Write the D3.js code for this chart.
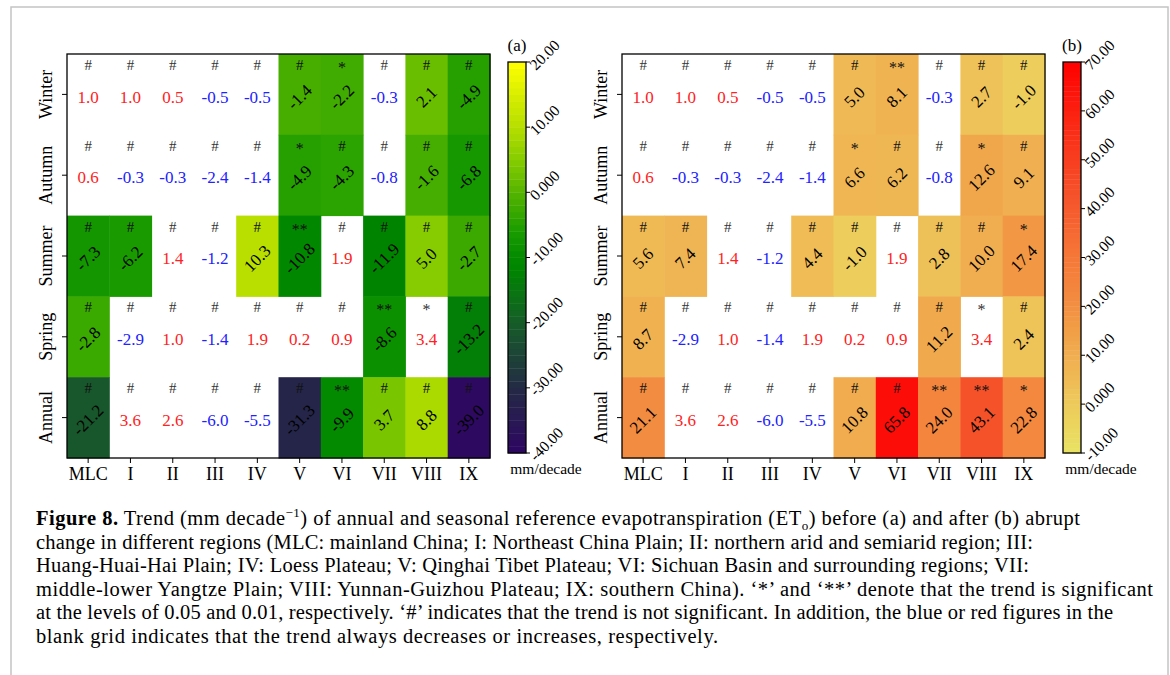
<!DOCTYPE html>
<html>
<head>
<meta charset="utf-8">
<script src="https://cdn.jsdelivr.net/npm/d3@7"></script>
<style>
  body { margin: 0; background: #fff; }
  svg { display: block; font-family: "Liberation Serif", "DejaVu Serif", serif; }
</style>
</head>
<body>
<div id="vis"></div>
<script>
const WIDTH = 1170;
const HEIGHT = 675;

const regions = ["MLC", "I", "II", "III", "IV", "V", "VI", "VII", "VIII", "IX"];
const seasons = ["Winter", "Autumn", "Summer", "Spring", "Annual"];

// trend before abrupt change (a)
const before = [
  [1.0, 1.0, 0.5, -0.5, -0.5, -1.4, -2.2, -0.3, 2.1, -4.9],
  [0.6, -0.3, -0.3, -2.4, -1.4, -4.9, -4.3, -0.8, -1.6, -6.8],
  [-7.3, -6.2, 1.4, -1.2, 10.3, -10.8, 1.9, -11.9, 5.0, -2.7],
  [-2.8, -2.9, 1.0, -1.4, 1.9, 0.2, 0.9, -8.6, 3.4, -13.2],
  [-21.2, 3.6, 2.6, -6.0, -5.5, -31.3, -9.9, 3.7, 8.8, -39.0]
];
const beforeSig = [
  ["#", "#", "#", "#", "#", "#", "*", "#", "#", "#"],
  ["#", "#", "#", "#", "#", "*", "#", "#", "#", "#"],
  ["#", "#", "#", "#", "#", "**", "#", "#", "#", "#"],
  ["#", "#", "#", "#", "#", "#", "#", "**", "*", "#"],
  ["#", "#", "#", "#", "#", "#", "**", "#", "#", "#"]
];

// trend after abrupt change (b)
const after = [
  [1.0, 1.0, 0.5, -0.5, -0.5, 5.0, 8.1, -0.3, 2.7, -1.0],
  [0.6, -0.3, -0.3, -2.4, -1.4, 6.6, 6.2, -0.8, 12.6, 9.1],
  [5.6, 7.4, 1.4, -1.2, 4.4, -1.0, 1.9, 2.8, 10.0, 17.4],
  [8.7, -2.9, 1.0, -1.4, 1.9, 0.2, 0.9, 11.2, 3.4, 2.4],
  [21.1, 3.6, 2.6, -6.0, -5.5, 10.8, 65.8, 24.0, 43.1, 22.8]
];
const afterSig = [
  ["#", "#", "#", "#", "#", "#", "**", "#", "#", "#"],
  ["#", "#", "#", "#", "#", "*", "#", "#", "*", "#"],
  ["#", "#", "#", "#", "#", "#", "#", "#", "#", "*"],
  ["#", "#", "#", "#", "#", "#", "#", "#", "*", "#"],
  ["#", "#", "#", "#", "#", "#", "#", "**", "**", "*"]
];

// 1 = coloured cell, 0 = blank grid (trend keeps its sign)
const shaded = [
  [0, 0, 0, 0, 0, 1, 1, 0, 1, 1],
  [0, 0, 0, 0, 0, 1, 1, 0, 1, 1],
  [1, 1, 0, 0, 1, 1, 0, 1, 1, 1],
  [1, 0, 0, 0, 0, 0, 0, 1, 0, 1],
  [1, 0, 0, 0, 0, 1, 1, 1, 1, 1]
];

const ticksA = [20, 10, 0, -10, -20, -30, -40];
const tickLabelsA = ["20.00", "10.00", "0.000", "-10.00", "-20.00", "-30.00", "-40.00"];
const ticksB = [70, 60, 50, 40, 30, 20, 10, 0, -10];
const tickLabelsB = ["70.00", "60.00", "50.00", "40.00", "30.00", "20.00", "10.00", "0.000", "-10.00"];

const colorA = d3.scaleLinear()
  .domain([-40, -30, -20, -12, -10, -6, -3, 0, 5, 10, 15, 20])
  .range(["#2e0662", "#232a44", "#165c28", "#008400", "#038a00", "#1a9c00", "#38a800",
          "#55b400", "#86cc00", "#b6de00", "#d8ee00", "#ffff00"])
  .clamp(true);

const colorB = d3.scaleLinear()
  .domain([-10, 0, 5, 10, 12.6, 17.4, 21, 30, 43, 50, 60, 70])
  .range(["#e8e262", "#edcb5b", "#efba55", "#f0ae50", "#f0a64a", "#f29844", "#f28c40",
          "#f57838", "#f5522a", "#f83e20", "#fb2010", "#ff0000"])
  .clamp(true);

const svg = d3.select("#vis").append("svg")
  .attr("width", WIDTH)
  .attr("height", HEIGHT);

// page frame
svg.append("rect")
  .attr("x", 11).attr("y", 7)
  .attr("width", 1157).attr("height", 720)
  .attr("fill", "none")
  .attr("stroke", "#c4c4c4")
  .attr("stroke-width", 1.5);

function drawPanel(left, values, sigs, color, ticks, tickLabels, cbX, cbDomain, tag) {
  const x = d3.scaleBand().domain(regions).range([left, left + 423]);
  const y = d3.scaleBand().domain(seasons).range([54, 458]);
  const g = svg.append("g");

  const cells = [];
  seasons.forEach((s, i) => {
    regions.forEach((r, j) => {
      cells.push({season: s, region: r, v: values[i][j], sig: sigs[i][j], on: shaded[i][j]});
    });
  });

  g.selectAll(".cell")
    .data(cells.filter(d => d.on))
    .enter().append("rect")
      .attr("class", "cell")
      .attr("x", d => x(d.region))
      .attr("y", d => y(d.season))
      .attr("width", x.bandwidth() + 0.5)
      .attr("height", y.bandwidth() + 0.5)
      .attr("fill", d => color(d.v));

  g.selectAll(".sig")
    .data(cells)
    .enter().append("text")
      .attr("class", "sig")
      .attr("x", d => x(d.region) + x.bandwidth() / 2)
      .attr("y", d => y(d.season) + (d.sig === "#" ? 16 : 19))
      .attr("text-anchor", "middle")
      .attr("font-size", d => d.sig === "#" ? 15 : 16)
      .attr("fill", d => d.on ? "#111" : "#333")
      .text(d => d.sig);

  g.selectAll(".val")
    .data(cells)
    .enter().append("text")
      .attr("class", "val")
      .attr("transform", d => {
        const cx = x(d.region) + x.bandwidth() / 2;
        const cy = y(d.season) + 43;
        return d.on ? `translate(${cx},${cy}) rotate(-45)` : `translate(${cx},${cy})`;
      })
      .attr("text-anchor", "middle")
      .attr("dominant-baseline", "central")
      .attr("font-size", 17)
      .attr("fill", d => d.on ? "#000" : (d.v < 0 ? "#2222ff" : "#ff2222"))
      .text(d => d.v.toFixed(1));

  // frame and axes
  g.append("rect")
    .attr("x", left).attr("y", 54)
    .attr("width", 423).attr("height", 404)
    .attr("fill", "none")
    .attr("stroke", "#000")
    .attr("stroke-width", 1.3);

  const xAxis = g.append("g")
    .attr("transform", "translate(0,458)")
    .call(d3.axisBottom(x).tickSize(5).tickPadding(4));
  xAxis.select(".domain").remove();
  xAxis.selectAll("text")
    .attr("font-size", 18)
    .attr("font-family", "Liberation Serif")
    .attr("fill", "#000");

  const yAxis = g.append("g")
    .attr("transform", `translate(${left},0)`)
    .call(d3.axisLeft(y).tickSize(5).tickFormat(""));
  yAxis.select(".domain").remove();

  g.selectAll(".season")
    .data(seasons)
    .enter().append("text")
      .attr("class", "season")
      .attr("transform", d => `translate(${left - 15},${y(d) + y.bandwidth() / 2}) rotate(-90)`)
      .attr("text-anchor", "middle")
      .attr("font-size", 18)
      .text(d => d);

  // colour bar
  const cb = d3.scaleLinear().domain(cbDomain).range([453, 62]);
  const bands = d3.range(cbDomain[0], cbDomain[1], 1);
  g.selectAll(".band")
    .data(bands)
    .enter().append("rect")
      .attr("class", "band")
      .attr("x", cbX)
      .attr("y", d => cb(d + 1))
      .attr("width", 18)
      .attr("height", d => cb(d) - cb(d + 1) + 0.4)
      .attr("fill", d => color(d + 0.5));
  g.append("rect")
    .attr("x", cbX).attr("y", 62)
    .attr("width", 18).attr("height", 391)
    .attr("fill", "none")
    .attr("stroke", "#000")
    .attr("stroke-width", 1.3);

  g.selectAll(".cbtick")
    .data(ticks)
    .enter().append("line")
      .attr("class", "cbtick")
      .attr("x1", cbX + 18).attr("x2", cbX + 22)
      .attr("y1", d => cb(d)).attr("y2", d => cb(d))
      .attr("stroke", "#000");

  g.selectAll(".cblabel")
    .data(ticks)
    .enter().append("text")
      .attr("class", "cblabel")
      .attr("transform", d => `translate(${cbX + 28},${cb(d) + 9}) rotate(-45)`)
      .attr("font-size", 15.5)
      .text((d, i) => tickLabels[i]);

  g.append("text")
    .attr("x", cbX + 9).attr("y", 51)
    .attr("text-anchor", "middle")
    .attr("font-size", 17)
    .text(tag);

  g.append("text")
    .attr("x", cbX + 38).attr("y", 474)
    .attr("text-anchor", "middle")
    .attr("font-size", 15.5)
    .text("mm/decade");
}

drawPanel(67, before, beforeSig, colorA, ticksA, tickLabelsA, 508, [-40, 20], "(a)");
drawPanel(622, after, afterSig, colorB, ticksB, tickLabelsB, 1063, [-10, 70], "(b)");

// caption, one text per printed line
const capX = 36;
const capLines = [
  {end: 1080, parts: [
    {t: "Figure 8.", b: true}, {t: " Trend (mm decade"}, {t: "\u22121", sup: true},
    {t: ") of annual and seasonal reference evapotranspiration (ET"}, {t: "o", sub: true},
    {t: ") before (a) and after (b) abrupt"}]},
  {end: 1033, parts: [{t: "change in different regions (MLC: mainland China; I: Northeast China Plain; II: northern arid and semiarid region; III:"}]},
  {end: 1029, parts: [{t: "Huang-Huai-Hai Plain; IV: Loess Plateau; V: Qinghai Tibet Plateau; VI: Sichuan Basin and surrounding regions; VII:"}]},
  {end: 1153, parts: [{t: "middle-lower Yangtze Plain; VIII: Yunnan-Guizhou Plateau; IX: southern China). \u2018*\u2019 and \u2018**\u2019 denote that the trend is significant"}]},
  {end: 1113, parts: [{t: "at the levels of 0.05 and 0.01, respectively. \u2018#\u2019 indicates that the trend is not significant. In addition, the blue or red figures in the"}]},
  {end: 718, parts: [{t: "blank grid indicates that the trend always decreases or increases, respectively."}]}
];

capLines.forEach((line, i) => {
  const t = svg.append("text")
    .attr("x", capX)
    .attr("y", 525 + i * 23.5)
    .attr("font-size", 20.5)
    .attr("textLength", line.end - capX)
    .attr("lengthAdjust", "spacing");
  line.parts.forEach((p, k) => {
    const ts = t.append("tspan").text(p.t);
    const prev = k > 0 ? line.parts[k - 1] : null;
    if (p.b) ts.attr("font-weight", "bold");
    if (p.sup) ts.attr("dy", -8).attr("font-size", 13);
    if (p.sub) ts.attr("dy", 5).attr("font-size", 13);
    if (prev && prev.sup) ts.attr("dy", 8);
    if (prev && prev.sub) ts.attr("dy", -5);
  });
});
</script>
</body>
</html>
